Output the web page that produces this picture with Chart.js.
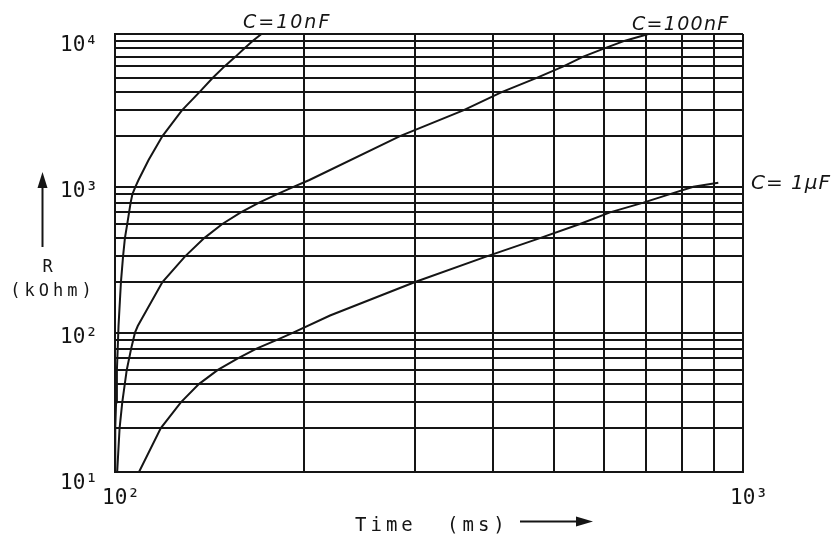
<!DOCTYPE html>
<html><head><meta charset="utf-8">
<script src="https://cdn.jsdelivr.net/npm/chart.js@4/dist/chart.umd.min.js"></script>
<style>html,body{margin:0;padding:0;background:#fff}canvas{display:block}</style>
</head><body>
<canvas id="c" width="833" height="534"></canvas>
<script>
// ---- data (Time in ms, R in kOhm) ----
const c10nT = [100, 100.1, 100.4, 100.7, 101.0, 101.3, 102.2, 103.0, 103.7, 104.6, 105.3, 105.9, 106.6, 107.8, 109.0, 113.1, 119.0, 127.8, 136.3, 143.0, 149.4, 155.6, 160.8, 165.8, 171.1];
const c10nR = [10, 20, 30, 50, 70, 100, 200, 300, 400, 500, 600, 700, 800, 900, 1000, 1370, 2000, 3000, 4000, 5000, 6000, 7000, 8000, 9000, 10000];

const c100nT = [100.8, 101.7, 102.7, 104.4, 106.1, 107.6, 108.7, 119.0, 129.3, 138.7, 148.2, 158.6, 169.6, 181.3, 192.8, 204, 284.3, 358.5, 412.8, 469.4, 517.6, 556.8, 603, 649, 706.9];
const c100nR = [10, 20, 30, 50, 70, 90, 100, 200, 300, 400, 500, 600, 700, 800, 900, 1000, 2000, 3000, 4000, 5000, 6000, 7000, 8000, 9000, 10000];

const c1uT = [109.2, 118.3, 127.3, 136.0, 145.8, 156.9, 168.0, 180.7, 192.2, 220, 300.5, 390.8, 475, 550, 614, 694, 765, 833.5, 913.4];
const c1uR = [10, 20, 30, 40, 50, 60, 70, 80, 90, 118, 200, 300, 400, 500, 600, 700, 800, 900, 957];

const seriesNames = ['C=10nF', 'C=100nF', 'C= 1\u03BCF'];

// ---- axes / ticks ----
const xGridValues = [100, 200, 300, 400, 500, 600, 700, 800, 900, 1000];
const yGridValues = [10, 20, 30, 40, 50, 60, 70, 80, 90,
                     100, 200, 300, 400, 500, 600, 700, 800, 900,
                     1000, 2000, 3000, 4000, 5000, 6000, 7000, 8000, 9000, 10000];
const yGridMissing = [100, 1000];          // decade lines not drawn in the original
const xLabelValues = [100, 1000];
const xLabelTexts = ['10\u00B2', '10\u00B3'];
const yLabelValues = [10, 100, 1000, 10000];
const yLabelTexts = ['10\u00B9', '10\u00B2', '10\u00B3', '10\u2074'];
const xTitleParts = ['Time', '(ms)'];
const yTitleParts = ['R', '(kOhm)'];

const INK = '#151515';
const MONO = "'DejaVu Sans Mono', monospace";

function pts(ts, rs) { return ts.map((t, i) => ({ x: t, y: rs[i] })); }

const annotate = {
  id: 'annotate',
  afterDraw(chart) {
    const ctx = chart.ctx;
    ctx.save();
    ctx.fillStyle = INK; ctx.strokeStyle = INK;
    // y title + arrow
    ctx.font = "17px " + MONO;
    ctx.textAlign = 'center'; ctx.textBaseline = 'alphabetic';
    try { ctx.letterSpacing = '1px'; } catch (e) {}
    ctx.fillText(yTitleParts[0], 48, 272);
    try { ctx.letterSpacing = '4px'; } catch (e) {}
    ctx.fillText(yTitleParts[1], 53, 296);
    ctx.lineWidth = 2;
    ctx.beginPath(); ctx.moveTo(42.5, 247); ctx.lineTo(42.5, 184); ctx.stroke();
    ctx.beginPath(); ctx.moveTo(42.5, 172); ctx.lineTo(37.5, 188); ctx.lineTo(47.5, 188); ctx.closePath(); ctx.fill();
    // x title + arrow
    ctx.font = "19px " + MONO;
    ctx.textAlign = 'left';
    try { ctx.letterSpacing = '4px'; } catch (e) {}
    ctx.fillText(xTitleParts[0], 355, 531);
    ctx.fillText(xTitleParts[1], 447, 531);
    ctx.beginPath(); ctx.moveTo(520, 521.5); ctx.lineTo(580, 521.5); ctx.stroke();
    ctx.beginPath(); ctx.moveTo(593, 521.5); ctx.lineTo(576, 516.5); ctx.lineTo(576, 526.5); ctx.closePath(); ctx.fill();
    // series labels
    ctx.font = "italic 19px 'DejaVu Sans', sans-serif";
    ctx.textAlign = 'left';
    try { ctx.letterSpacing = '2px'; } catch (e) {}
    ctx.fillText(seriesNames[0], 243, 28);
    try { ctx.letterSpacing = '1.3px'; } catch (e) {}
    ctx.fillText(seriesNames[1], 632, 30);
    ctx.font = "italic 20px 'DejaVu Sans', sans-serif";
    try { ctx.letterSpacing = '1px'; } catch (e) {}
    ctx.fillText(seriesNames[2], 751, 189);
    ctx.restore();
  }
};

const lineStyle = { borderColor: INK, borderWidth: 2, pointRadius: 0, showLine: true, tension: 0, fill: false };

new Chart(document.getElementById('c'), {
  type: 'scatter',
  data: {
    datasets: [
      Object.assign({ label: seriesNames[0], data: pts(c10nT, c10nR) }, lineStyle),
      Object.assign({ label: seriesNames[1], data: pts(c100nT, c100nR) }, lineStyle),
      Object.assign({ label: seriesNames[2], data: pts(c1uT, c1uR) }, lineStyle)
    ]
  },
  options: {
    responsive: false,
    animation: false,
    devicePixelRatio: 1,
    layout: { padding: { top: 34, right: 90, left: 0, bottom: 0 } },
    plugins: { legend: { display: false }, tooltip: { enabled: false }, title: { display: false } },
    scales: {
      x: {
        type: 'logarithmic', position: 'bottom', min: 100, max: 1000,
        afterBuildTicks: s => { s.ticks = xGridValues.map(v => ({ value: v })); },
        afterFit: s => { s.height = 62; },
        grid: { color: INK, lineWidth: 2, drawTicks: false },
        border: { color: INK, width: 2 },
        ticks: {
          autoSkip: false, maxRotation: 0, minRotation: 0, padding: 14, labelOffset: 6,
          color: INK, font: { family: MONO, size: 21 },
          callback: v => { const i = xLabelValues.indexOf(v); return i >= 0 ? xLabelTexts[i] : ''; }
        }
      },
      y: {
        type: 'logarithmic', position: 'left', min: 10, max: 10000,
        afterBuildTicks: s => { s.ticks = yGridValues.map(v => ({ value: v })); },
        afterFit: s => { s.width = 115; },
        grid: {
          drawTicks: false, lineWidth: 2,
          color: c => (c.tick && yGridMissing.includes(c.tick.value)) ? 'rgba(0,0,0,0)' : INK
        },
        border: { color: INK, width: 2 },
        ticks: {
          autoSkip: false, padding: 17, labelOffset: 12,
          color: INK, font: { family: MONO, size: 21 },
          callback: v => { const i = yLabelValues.indexOf(v); return i >= 0 ? yLabelTexts[i] : ''; }
        }
      }
    }
  },
  plugins: [annotate]
});
</script>
</body></html>
